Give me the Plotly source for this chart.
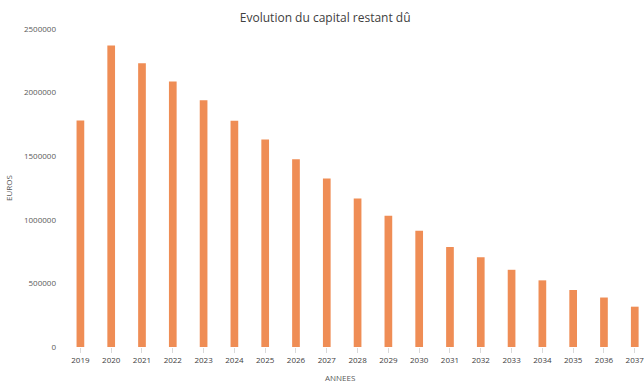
import plotly.graph_objects as go

years = [str(y) for y in range(2019, 2038)]
capital = [1780000, 2370000, 2230000, 2087000, 1940000, 1778000, 1631000, 1476000,
           1325000, 1167000, 1032000, 913000, 786000, 706000, 607000, 524000,
           448000, 389000, 317000]
y_ticks = [0, 500000, 1000000, 1500000, 2000000, 2500000]

fig = go.Figure()
fig.add_trace(go.Bar(
    x=years, y=capital, width=0.25,
    marker=dict(color="#EF8D55", line=dict(width=0)),
))

fig.update_layout(
    width=644, height=382,
    margin=dict(l=65, r=0, t=29, b=35),
    paper_bgcolor="white", plot_bgcolor="white",
    showlegend=False,
    font=dict(family="Open Sans, Liberation Sans, sans-serif", color="#595959"),
    title=dict(text="Evolution du capital restant dû", x=0.505, xanchor="center",
               y=1 - 18 / 382, yanchor="middle", yref="container",
               font=dict(size=12, color="#404040")),
)
fig.update_xaxes(
    type="category", range=[-0.5, 18.3],
    showline=False, showgrid=False,
    ticks="outside", ticklen=5, tickcolor="#D9D9D9",
    tickfont=dict(size=8, color="#404040"),
)
fig.update_yaxes(
    range=[0, 2500000], tickvals=y_ticks, tickformat="d",
    showgrid=False, zeroline=False, showline=False,
    tickfont=dict(size=8, color="#595959"),
    ticklabelstandoff=8,
    title=dict(text="EUROS", font=dict(size=8, color="#595959"), standoff=10),
)
fig.add_annotation(text="ANNEES", xref="paper", yref="paper",
                   x=(340 - 65) / (644 - 65), y=-30 / 318, yanchor="middle",
                   showarrow=False, font=dict(size=8, color="#595959"))

fig.write_html("out.html")
